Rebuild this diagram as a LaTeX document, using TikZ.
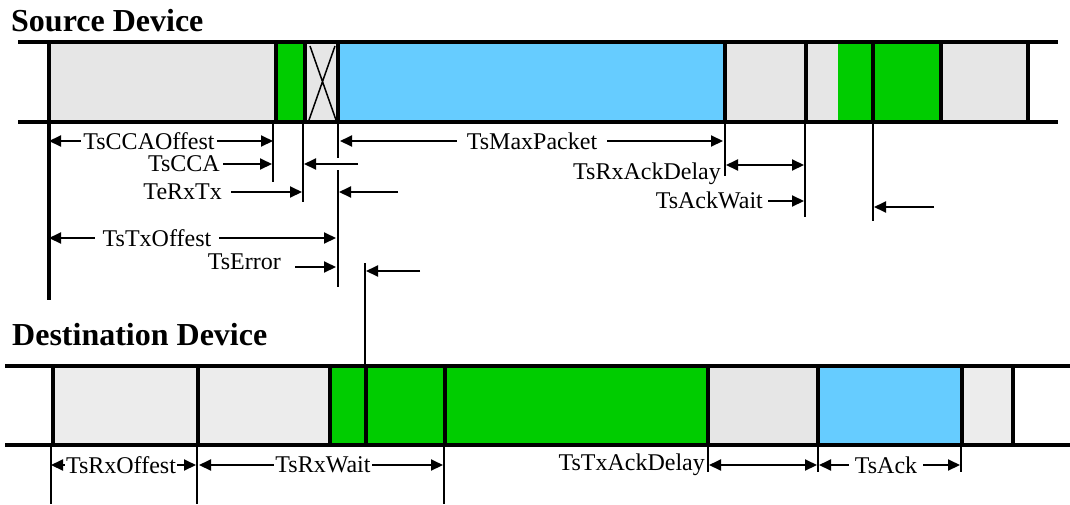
\documentclass[tikz,border=0pt]{standalone}
\usepackage{fontspec}
\setmainfont{Liberation Serif}
\newfontfamily\timesfam{Liberation Serif}
\usetikzlibrary{arrows.meta,positioning,calc}
\definecolor{slotgray}{RGB}{230,230,230}
\definecolor{slotlight}{RGB}{236,236,236}
\definecolor{txgreen}{RGB}{0,204,0}
\definecolor{pktblue}{RGB}{102,204,255}

\begin{document}
\begin{tikzpicture}[x=1pt, y=-1pt,
  font=\timesfam\fontsize{24}{27}\selectfont,
  head/.style={font=\timesfam\fontsize{32}{36}\selectfont\bfseries, anchor=base west, inner sep=0pt},
  sep/.style={line width=3.5pt},
  rail/.style={line width=4pt},
  tick/.style={line width=2pt},
  arr/.style={-{Triangle[length=12pt,width=11pt]}, line width=2pt},
  darr/.style={{Triangle[length=12pt,width=11pt]}-{Triangle[length=12pt,width=11pt]}, line width=2pt},
  lab/.style={fill=white, inner xsep=2pt, inner ysep=0pt},
  rlab/.style={anchor=east, inner sep=0pt}
]
\useasboundingbox (0,0) rectangle (1070,504);

% headings
\node[head] (srchd) at (11,31) {Source Device};
\node[head] (dsthd) at (12,345) {Destination Device};

% source device slots
\fill[slotgray] (49,42) rectangle (276,122);
\fill[txgreen] (276,42) rectangle (305,122);
\fill[slotgray] (305,42) rectangle (338,122);
\fill[pktblue] (338,42) rectangle (725,122);
\fill[slotgray] (725,42) rectangle (1028,122);
\fill[txgreen] (838,42) rectangle (941,122);
\draw[line width=1.5pt] (310,46) -- (336,120) (335,46) -- (309,120);
\foreach \x in {276,305,338,725,806,873,941,1028}
  \draw[sep] (\x,42) -- (\x,122);
\draw[sep] (49,42) -- (49,300);
\draw[rail] (18,42) -- (1058,42);
\draw[rail] (18,122) -- (1058,122);

% destination device slots
\fill[slotlight] (53,366) rectangle (330,445);
\fill[txgreen] (330,366) rectangle (708,445);
\fill[slotgray] (708,366) rectangle (818,445);
\fill[pktblue] (818,366) rectangle (962,445);
\fill[slotlight] (962,366) rectangle (1013,445);
\foreach \x in {53,198,330,366,445,708,818,962,1013}
  \draw[sep] (\x,366) -- (\x,445);
\draw[rail] (5,366) -- (1070,366);
\draw[rail] (5,445) -- (1070,445);

% source timing marks
\draw[tick] (273,122) -- (273,182);
\draw[tick] (303,122) -- (303,202);
\draw[tick] (338,122) -- (338,158);
\draw[tick] (338,170) -- (338,287);
\draw[tick] (365,263) -- (365,366);
\draw[tick] (725,122) -- (725,176);
\draw[tick] (805,122) -- (805,217);
\draw[tick] (873,122) -- (873,221);

\draw[darr] (49,141) -- (273,141);
\node[lab] (ccaoff) at (149,141) {TsCCAOffest};
\draw[darr] (340,141) -- (723,141);
\node[lab, inner xsep=10pt] (maxpkt) at (532,141) {TsMaxPacket};

\node[rlab] (cca) at (220,164) {TsCCA};
\draw[arr] (223,164) -- (272,164);
\draw[arr] (358,164) -- (304,164);

\node[rlab] (rxtx) at (222,192) {TeRxTx};
\draw[arr] (231,192) -- (302,192);
\draw[arr] (398,192) -- (339,192);

\draw[darr] (49,238) -- (336,238);
\node[lab, inner xsep=8pt] (txoff) at (157,238) {TsTxOffest};

\node[rlab] (err) at (281,262) {TsError};
\draw[arr] (295,267) -- (336,267);
\draw[arr] (420,271) -- (366,271);

\draw[darr] (726,165) -- (804,165);
\node[rlab] (rxackd) at (721,174) {TsRxAckDelay};
\node[rlab] (ackwait) at (763,200) {TsAckWait};
\draw[arr] (768,201) -- (804,201);
\draw[arr] (934,207) -- (874,207);

% destination timing marks
\foreach \x in {51,197,444}
  \draw[tick] (\x,445) -- (\x,504);
\foreach \x in {708,818,961}
  \draw[tick] (\x,445) -- (\x,472);

\draw[darr] (51,465) -- (196,465);
\node[lab, inner xsep=1pt] (rxoff) at (121,465) {TsRxOffest};
\draw[darr] (199,465) -- (443,465);
\node[lab, inner xsep=1pt] (rxwait) at (323,465) {TsRxWait};
\node[rlab] (txackd) at (705,465) {TsTxAckDelay};
\draw[darr] (709,465) -- (817,465);
\draw[darr] (819,465) -- (960,465);
\node[lab, inner xsep=6pt] (ack) at (886,465) {TsAck};
\end{tikzpicture}
\end{document}
